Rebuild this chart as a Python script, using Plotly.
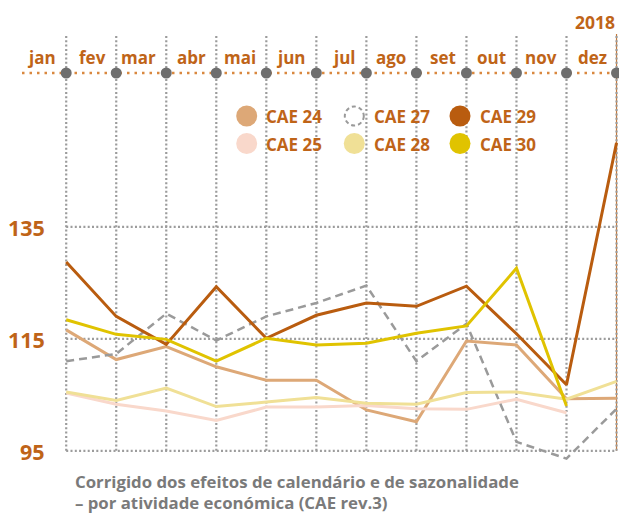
import plotly.graph_objects as go

months = ["jan", "fev", "mar", "abr", "mai", "jun", "jul", "ago", "set", "out", "nov", "dez"]
year_label = "2018"
y_ticks = [95, 115, 135]

cae24 = [116.6, 111.3, 113.6, 110.0, 107.6, 107.6, 102.3, 100.2, 114.6, 113.9, 104.3, 104.4]
cae25 = [105.3, 103.3, 102.1, 100.4, 102.8, 102.8, 103.1, 102.5, 102.4, 104.2, 101.8, None]
cae27 = [111.0, 112.3, 119.5, 114.7, 119.0, 121.4, 124.5, 111.0, 117.7, 96.6, 93.6, 102.5]
cae28 = [105.5, 104.0, 106.2, 102.9, 103.7, 104.5, 103.5, 103.3, 105.4, 105.5, 104.2, 107.4]
cae29 = [128.7, 119.0, 114.0, 124.3, 115.1, 119.2, 121.4, 120.8, 124.4, 115.9, 106.8, 150.0]
cae30 = [118.4, 115.8, 114.9, 111.0, 115.1, 113.9, 114.2, 116.0, 117.3, 127.6, 103.0, None]

series_names = ["CAE 24", "CAE 25", "CAE 27", "CAE 28", "CAE 29", "CAE 30"]
series_values = [cae24, cae25, cae27, cae28, cae29, cae30]
series_colors = ["#DDA877", "#F9D8CB", "#9A9A9A", "#F0E096", "#B95C0F", "#E0C300"]
series_dash = ["solid", "solid", "8px,5px", "solid", "solid", "solid"]
series_width = [3, 3, 2.5, 3, 3, 3]

ORANGE = "#BF6418"
GRID = "#9C9C9C"
FONT = "Open Sans"
W, H = 619, 513

# pixel helpers for layout placement (px -> data)
PX_PER_UNIT = 5.6
Y95_PX = 450.8
def ydat(py):
    return 95 + (Y95_PX - py) / PX_PER_UNIT

X0_PX, X_STEP = 66.2, 50.03
def xdat(px):
    return (px - X0_PX) / X_STEP

x = list(range(len(months)))

fig = go.Figure()

for name, vals, col, dash, wd in zip(series_names, series_values, series_colors, series_dash, series_width):
    fig.add_trace(go.Scatter(x=x, y=vals, mode="lines", name=name,
                             line=dict(color=col, width=wd, dash=dash),
                             showlegend=False, hoverinfo="skip"))

# dots on the top time axis
top_y = ydat(73)
fig.add_trace(go.Scatter(x=x, y=[top_y] * len(x), mode="markers",
                         marker=dict(size=11, color="#6E6E6E"),
                         showlegend=False, hoverinfo="skip"))

shapes = []
grid_top = ydat(34)
# orange dotted timeline
shapes.append(dict(type="line", xref="x", yref="y", x0=xdat(22), x1=len(x) - 1,
                   y0=top_y, y1=top_y, layer="below",
                   line=dict(color="#D9883F", width=2.5, dash="2.5px,5px")))
# last vertical solid line
shapes.append(dict(type="line", xref="x", yref="y", x0=len(x) - 1, x1=len(x) - 1,
                   y0=95, y1=grid_top, layer="below",
                   line=dict(color="#C27A3F", width=1.2)))
for i in x:
    shapes.append(dict(type="line", xref="x", yref="y", x0=i, x1=i, y0=95, y1=grid_top,
                       layer="below", line=dict(color=GRID, width=2.2, dash="2px,2.3px")))
for t in y_ticks:
    shapes.append(dict(type="line", xref="x", yref="y", x0=0, x1=len(x) - 1, y0=t, y1=t,
                       layer="below", line=dict(color=GRID, width=2.2, dash="2px,2.3px")))

annotations = []
for i, m in enumerate(months):
    annotations.append(dict(x=i, y=ydat(57), xref="x", yref="y", text=m, showarrow=False,
                            xanchor="right", yanchor="middle", xshift=-8,
                            font=dict(family=FONT, size=17, color=ORANGE, weight="bold")))
annotations.append(dict(x=len(x) - 1, y=ydat(21.5), xref="x", yref="y", text=year_label,
                        showarrow=False, xanchor="right", yanchor="middle", xshift=0,
                        font=dict(family=FONT, size=17.5, color=ORANGE, weight="bold")))
for t in y_ticks:
    annotations.append(dict(x=47 / W, y=t, xref="paper", yref="y", text=str(t), showarrow=False,
                            xanchor="right", yanchor="middle", yshift=-1,
                            font=dict(family=FONT, size=21.5, color=ORANGE, weight="bold")))

# custom legend (3 columns x 2 rows)
legend_order = ["CAE 24", "CAE 27", "CAE 29", "CAE 25", "CAE 28", "CAE 30"]
col_px = [246.7, 354.3, 460.0]
row_px = [116.0, 143.5]
for k, nm in enumerate(legend_order):
    idx = series_names.index(nm)
    cx, cy = col_px[k % 3], row_px[k // 3]
    if nm == "CAE 27":
        shp = dict(type="circle", xref="paper", yref="paper", xsizemode="pixel", ysizemode="pixel",
                   xanchor=cx / W, yanchor=1 - cy / H, x0=-9.5, x1=9.5, y0=-9.5, y1=9.5,
                   line=dict(color=series_colors[idx], width=2, dash="4px,3px"),
                   fillcolor="rgba(0,0,0,0)")
    else:
        shp = dict(type="circle", xref="paper", yref="paper", xsizemode="pixel", ysizemode="pixel",
                   xanchor=cx / W, yanchor=1 - cy / H, x0=-10.5, x1=10.5, y0=-10.5, y1=10.5,
                   line=dict(width=0), fillcolor=series_colors[idx])
    shapes.append(shp)
    annotations.append(dict(x=(cx + 17.5) / W, y=1 - (cy + 0.5) / H, xref="paper", yref="paper",
                            text=nm, showarrow=False, xanchor="left", yanchor="middle",
                            font=dict(family=FONT, size=17, color=ORANGE, weight="bold")))

notes = ["Corrigido dos efeitos de calendário e de sazonalidade",
         "– por atividade económica (CAE rev.3)"]
for j, line in enumerate(notes):
    annotations.append(dict(x=73 / W, y=1 - (481 + 21 * j) / H, xref="paper", yref="paper",
                            text=line, showarrow=False, xanchor="left", yanchor="middle",
                            font=dict(family=FONT, size=16.8, color="#7A7A7A", weight="bold")))

fig.update_layout(
    width=W, height=H,
    margin=dict(l=0, r=0, t=0, b=0),
    paper_bgcolor="white", plot_bgcolor="white",
    xaxis=dict(range=[xdat(0), xdat(W)], visible=False, fixedrange=True),
    yaxis=dict(range=[ydat(H), ydat(0)], visible=False, fixedrange=True),
    shapes=shapes, annotations=annotations, showlegend=False,
)

fig.write_html("out.html", config={"displayModeBar": False},
               post_script="document.body.style.margin='0';document.body.style.padding='0';")
